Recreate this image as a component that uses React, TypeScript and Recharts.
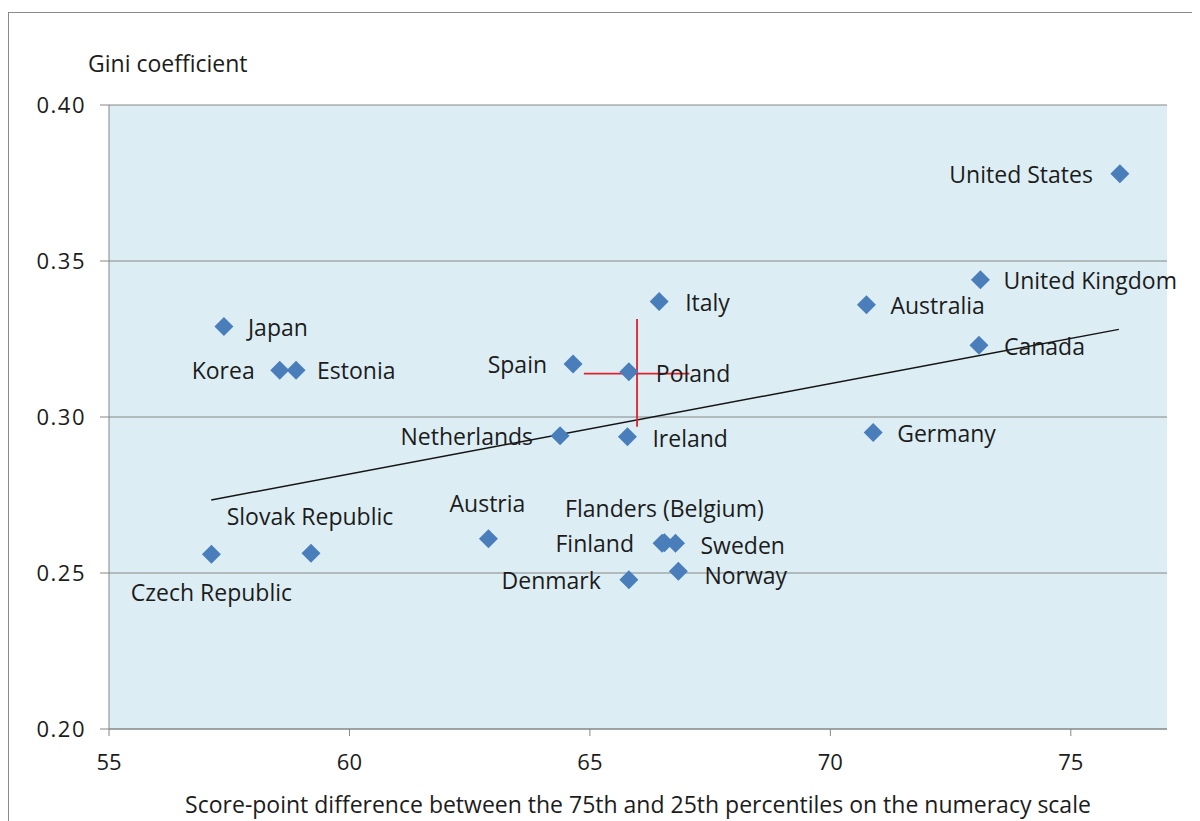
import { ScatterChart, Scatter, XAxis, YAxis, CartesianGrid, ReferenceLine } from 'recharts'

// Countries, numeracy score-point gap (x) and Gini coefficient (y)
const COUNTRIES = [
  'United States', 'United Kingdom', 'Australia', 'Canada', 'Germany',
  'Italy', 'Spain', 'Poland', 'Netherlands', 'Ireland',
  'Austria', 'Flanders (Belgium)', 'Finland', 'Sweden', 'Norway', 'Denmark',
  'Japan', 'Korea', 'Estonia', 'Slovak Republic', 'Czech Republic',
]
const SCORE_GAP = [
  76.02, 73.12, 70.75, 73.09, 70.89,
  66.44, 64.65, 65.81, 64.38, 65.78,
  62.89, 66.55, 66.50, 66.78, 66.84, 65.81,
  57.39, 58.55, 58.89, 59.20, 57.13,
]
const GINI = [
  0.378, 0.344, 0.336, 0.323, 0.295,
  0.337, 0.317, 0.3145, 0.294, 0.2937,
  0.261, 0.2597, 0.2595, 0.2595, 0.2506, 0.2478,
  0.329, 0.315, 0.315, 0.2563, 0.256,
]

const X_TICKS = [55, 60, 65, 70, 75]
const Y_TICKS = [0.2, 0.25, 0.3, 0.35, 0.4]

// linear trend, read at its two ends
const TREND_X = [57.125, 76.0]
const TREND_Y = [0.2734, 0.3281]

// average marker (red cross)
const AVG_X = 65.98
const AVG_Y = 0.3139
const AVG_X_RANGE = [64.875, 67.07]
const AVG_Y_RANGE = [0.2969, 0.3314]

const data = COUNTRIES.map((name, i) => ({ name, x: SCORE_GAP[i], y: GINI[i] }))

// where each label sits relative to its marker
const LABEL_POS: Record<string, { anchor: 'start' | 'end' | 'middle'; dx: number; dy: number }> = {
  'United States': { anchor: 'end', dx: -27, dy: 0 },
  'United Kingdom': { anchor: 'start', dx: 23, dy: 0 },
  'Australia': { anchor: 'start', dx: 24, dy: 0 },
  'Canada': { anchor: 'start', dx: 25, dy: 1 },
  'Germany': { anchor: 'start', dx: 24, dy: 0 },
  'Italy': { anchor: 'start', dx: 26, dy: 0 },
  'Spain': { anchor: 'end', dx: -26, dy: 0 },
  'Poland': { anchor: 'start', dx: 27, dy: 1 },
  'Netherlands': { anchor: 'end', dx: -27, dy: 0 },
  'Ireland': { anchor: 'start', dx: 25, dy: 1 },
  'Austria': { anchor: 'middle', dx: -1, dy: -36 },
  'Flanders (Belgium)': { anchor: 'middle', dx: 0, dy: -35 },
  'Finland': { anchor: 'end', dx: -28, dy: 0 },
  'Sweden': { anchor: 'start', dx: 25, dy: 2 },
  'Norway': { anchor: 'start', dx: 26, dy: 4 },
  'Denmark': { anchor: 'end', dx: -28, dy: 0 },
  'Japan': { anchor: 'start', dx: 24, dy: 0 },
  'Korea': { anchor: 'end', dx: -25, dy: 0 },
  'Estonia': { anchor: 'start', dx: 21, dy: 0 },
  'Slovak Republic': { anchor: 'middle', dx: -1, dy: -37 },
  'Czech Republic': { anchor: 'middle', dx: 0, dy: 38 },
}

const FONT = '"Open Sans", sans-serif'
const TEXT = '#1c1c1c'
const LABEL_SIZE = 23

const Diamond = (props: any) => {
  const { cx, cy, payload } = props
  const r = 9.5
  const pos = LABEL_POS[payload.name] || { anchor: 'start', dx: 20, dy: 0 }
  return (
    <g>
      <polygon points={`${cx},${cy - r} ${cx + r},${cy} ${cx},${cy + r} ${cx - r},${cy}`} fill="#4A7EBB" />
      <text x={cx + pos.dx} y={cy + pos.dy} textAnchor={pos.anchor} dominantBaseline="central"
        fontSize={LABEL_SIZE} fontFamily={FONT} fill={TEXT}>{payload.name}</text>
    </g>
  )
}

export default function App() {
  return (
    <div style={{ position: 'relative', width: 1192, height: 813, overflow: 'hidden', fontFamily: FONT }}>
      <div style={{ position: 'absolute', left: 0, top: 4, width: 1250, height: 900, border: '1px solid #8a8a8a' }} />
      <div style={{ position: 'absolute', left: 80, top: 39, fontSize: LABEL_SIZE, color: TEXT, lineHeight: '32px' }}>Gini coefficient</div>
      <ScatterChart width={1192} height={813} margin={{ top: 97, right: 33, bottom: 0, left: 0 }}
        style={{ position: 'absolute', left: 0, top: 0 }}>
        <CartesianGrid vertical={false} stroke="#868686" fill="#DCEEF4" fillOpacity={1} />
        <XAxis type="number" dataKey="x" domain={[55, 77]} ticks={X_TICKS} height={92}
          stroke="#868686" tickSize={7} tickMargin={18}
          tick={{ fontSize: 22, fontFamily: FONT, fill: TEXT }}
          label={{ value: 'Score-point difference between the 75th and 25th percentiles on the numeracy scale',
            position: 'insideBottom', offset: 8, fontSize: LABEL_SIZE, fontFamily: FONT, fill: TEXT }} />
        <YAxis type="number" dataKey="y" domain={[0.2, 0.4]} ticks={Y_TICKS} width={101}
          stroke="#868686" tickSize={9} tickMargin={14}
          tickFormatter={(v: number) => v.toFixed(2)}
          tick={{ fontSize: 22, fontFamily: FONT, fill: TEXT, letterSpacing: 1.5 }} />
        <Scatter data={data} shape={Diamond} isAnimationActive={false} />
        <ReferenceLine segment={[{ x: TREND_X[0], y: TREND_Y[0] }, { x: TREND_X[1], y: TREND_Y[1] }]}
          stroke="#141414" strokeWidth={1.4} />
        <ReferenceLine segment={[{ x: AVG_X_RANGE[0], y: AVG_Y }, { x: AVG_X_RANGE[1], y: AVG_Y }]}
          stroke="#E0202A" strokeWidth={1.8} />
        <ReferenceLine segment={[{ x: AVG_X, y: AVG_Y_RANGE[0] }, { x: AVG_X, y: AVG_Y_RANGE[1] }]}
          stroke="#E0202A" strokeWidth={1.8} />
      </ScatterChart>
    </div>
  )
}
